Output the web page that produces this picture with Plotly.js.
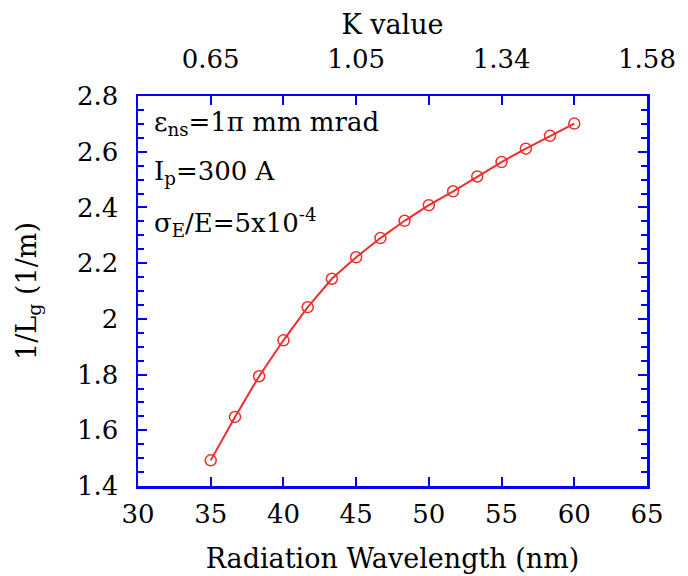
<!DOCTYPE html>
<html>
<head>
<meta charset="utf-8">
<script src="https://cdn.plot.ly/plotly-3.0.1.min.js"></script>
<style>
html,body{margin:0;padding:0;background:#fff;}
</style>
</head>
<body>
<div id="chart" style="width:688px;height:576px;"></div>
<script>
// Data
const wavelength = [35, 36.67, 38.33, 40, 41.67, 43.33, 45, 46.67, 48.33, 50, 51.67, 53.33, 55, 56.67, 58.33, 60];
const invGainLength = [1.492, 1.648, 1.794, 1.923, 2.042, 2.144, 2.221, 2.290, 2.352, 2.408, 2.458, 2.511, 2.563, 2.611, 2.657, 2.701];
const kTickWavelength = [35, 45, 55, 65];
const kTickLabels = ['0.65', '1.05', '1.34', '1.58'];
const infoLines = ['ε<sub>ns</sub>=1π mm mrad', 'I<sub>p</sub>=300 A', 'σ<sub>E</sub>/E=5x10<sup>-4</sup>'];

const FONT = 'DejaVu Serif';
const BLUE = '#0000ff';
const RED = 'rgb(240,45,45)';
const TICK_SIZE = 26;
const TITLE_SIZE = 27;

const traces = [
  {
    x: wavelength, y: invGainLength,
    type: 'scatter', mode: 'lines+markers',
    line: {color: RED, width: 2},
    marker: {symbol: 'circle-open', size: 11, color: RED, line: {color: RED, width: 1.5}},
    xaxis: 'x', yaxis: 'y', showlegend: false, hoverinfo: 'skip'
  },
  {
    x: kTickWavelength, y: kTickWavelength.map(() => null),
    type: 'scatter', mode: 'markers', xaxis: 'x2', yaxis: 'y',
    showlegend: false, hoverinfo: 'skip'
  }
];

const annotations = infoLines.map((t, i) => ({
  xref: 'paper', yref: 'paper', x: 0.028, y: [0.93, 0.805, 0.675][i],
  xanchor: 'left', yanchor: 'middle', showarrow: false,
  text: t, font: {family: FONT, size: 26, color: '#000'}
}));

const layout = {
  width: 688, height: 576,
  margin: {l: 138, r: 41, t: 96, b: 90, pad: 0},
  paper_bgcolor: '#fff', plot_bgcolor: '#fff',
  font: {family: FONT, size: TICK_SIZE, color: '#000'},
  showlegend: false,
  xaxis: {
    range: [30, 65], dtick: 5, tick0: 30,
    ticks: 'inside', ticklen: 9, tickwidth: 2, tickcolor: BLUE,
    showline: true, linecolor: BLUE, linewidth: 2.5, mirror: 'ticks',
    showgrid: false, zeroline: false,
    tickfont: {family: FONT, size: TICK_SIZE, color: '#000'},
    ticklabelstandoff: 3,
    title: {text: 'Radiation Wavelength (nm)', font: {family: FONT, size: TITLE_SIZE, color: '#000'}, standoff: 22},
    automargin: false
  },
  xaxis2: {
    overlaying: 'x', side: 'top', matches: 'x', range: [30, 65],
    tickmode: 'array', tickvals: kTickWavelength, ticktext: kTickLabels,
    ticks: '', showline: false, showgrid: false, zeroline: false,
    tickfont: {family: FONT, size: TICK_SIZE, color: '#000'},
    ticklabelstandoff: 22,
    title: {text: 'K value', font: {family: FONT, size: TITLE_SIZE, color: '#000'}, standoff: 1},
    automargin: false
  },
  yaxis: {
    range: [1.4, 2.8], dtick: 0.2, tick0: 1.4,
    ticks: 'inside', ticklen: 9, tickwidth: 2, tickcolor: BLUE,
    minor: {dtick: 0.05, ticks: 'inside', ticklen: 6, tickwidth: 2, tickcolor: BLUE},
    showline: true, linecolor: BLUE, linewidth: 2.5, mirror: 'ticks',
    showgrid: false, zeroline: false,
    tickfont: {family: FONT, size: TICK_SIZE, color: '#000'},
    ticklabelstandoff: 12,
    title: {text: '1/L<sub>g</sub> (1/m)', font: {family: FONT, size: TITLE_SIZE, color: '#000'}, standoff: 33},
    automargin: false
  },
  annotations: annotations
};

Plotly.newPlot('chart', traces, layout, {displayModeBar: false, staticPlot: true});
</script>
</body>
</html>
